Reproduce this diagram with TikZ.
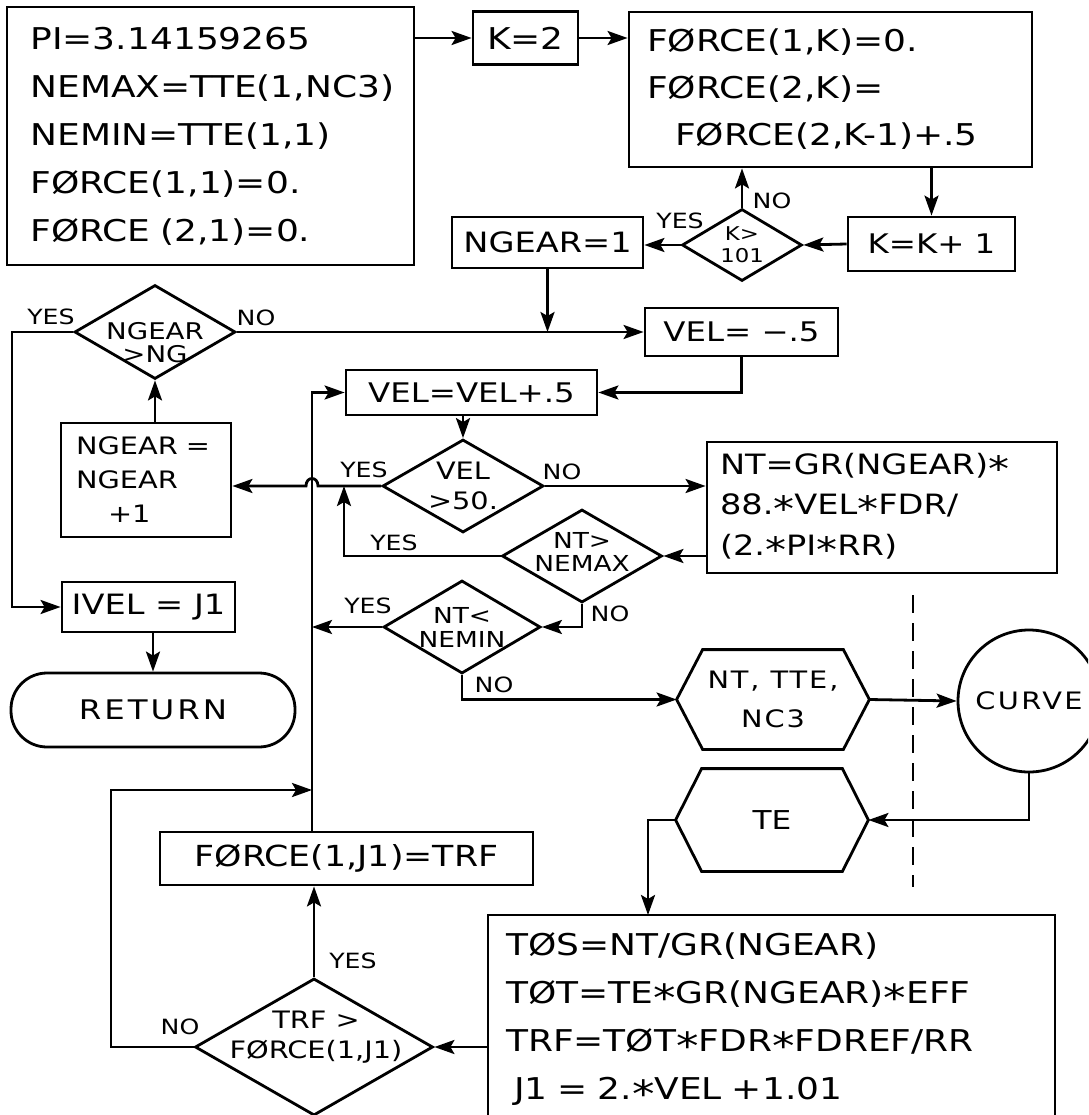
\documentclass[tikz,border=0pt]{standalone}
\usepackage{fontspec}
\usepackage{graphicx}
\setmainfont{DejaVu Sans}[FakeStretch=1.2]
\usetikzlibrary{arrows.meta,shapes.geometric,calc}
\newcommand{\fs}[2]{\fontsize{#1}{#2}\selectfont}
\newcommand{\tast}{\raisebox{-0.45ex}{\scalebox{1.25}{*}}}
\begin{document}
\begin{tikzpicture}[x=1pt,y=-1pt,line width=2.8pt,
  box/.style={draw,rectangle,inner sep=0pt},
  dia/.style={draw,diamond,inner sep=-12pt,align=center},
  dtxt/.style={inner sep=0pt,align=center},
  plain/.style={inner sep=0pt},
  lbl/.style={inner sep=0pt,font={\fs{21}{24}}},
  arr/.style={-{Stealth[length=20pt,width=14pt,inset=4pt]}},
  sep/.style={line width=1.8pt,dash pattern=on 18pt off 10pt}]
\useasboundingbox (0,0) rectangle (1088,1115);
\clip (0,0) rectangle (1088,1115);

% ---- nodes ----
\node[box,minimum width=407pt,minimum height=258pt,text width=360pt,align=left,font={\fs{30}{48}}] (init) at (210.5,136)
  {PI=3.14159265\\NEMAX=TTE(1,NC3)\\NEMIN=TTE(1,1)\\FØRCE(1,1)=0.\\FØRCE~(2,1)=0.};
\node[box,minimum width=105pt,minimum height=53pt,font={\fs{30}{36}}] (k2) at (525.5,38) {K=2};
\node[box,minimum width=403pt,minimum height=155pt,text width=367pt,align=left,font={\fs{30}{47}}] (force1) at (830.5,89.5)
  {FØRCE(1,K)=0.\\FØRCE(2,K)=\\\hspace*{28pt}FØRCE(2,K-1)+.5};
\node[box,minimum width=167pt,minimum height=54pt,font={\fs{27}{32}}] (kk1) at (931.5,244) {K=K+~1};
\node[dia,aspect=1.67,minimum width=120pt,minimum height=72pt,font={\fs{19}{22}}] (kd) at (742,245) {K>\\101};
\node[box,minimum width=191pt,minimum height=51pt,font={\fs{28}{32}}] (ng1) at (547.5,242.5) {NGEAR=1};
\node[dia,minimum width=161pt,minimum height=94pt] (ngd) at (155,332) {};
\node[dtxt,font={\fs{23}{23}}] (ngdt) at (155,343) {NGEAR\\>NG};
\node[box,minimum width=193pt,minimum height=48pt,font={\fs{27}{32}}] (velm) at (741.5,332) {VEL=~−.5};
\node[box,minimum width=251pt,minimum height=45pt,font={\fs{27}{32}}] (velp) at (471.5,392.5) {VEL=VEL+.5};
\node[dia,aspect=1.73,minimum width=161pt,minimum height=93pt,font={\fs{24}{30}}] (v50) at (463,486) {VEL\\>50.};
\node[box,minimum width=350pt,minimum height=131pt,text width=324pt,align=left,font={\fs{28}{40.5}}] (ntbox) at (882,507.5)
  {NT=GR(NGEAR)\tast\\88.\tast VEL\tast FDR/\\(2.\tast PI\tast RR)};
\node[dia,minimum width=160pt,minimum height=93pt] (ntmax) at (582,556) {};
\node[dtxt,font={\fs{22}{23}}] (ntmaxt) at (582,552) {NT>\\NEMAX};
\node[dia,aspect=1.69,minimum width=157pt,minimum height=93pt,font={\fs{22}{24}}] (ntmin) at (462,627) {NT<\\NEMIN};
\node[box,minimum width=170pt,minimum height=114pt,text width=140pt,align=left,font={\fs{24}{34}}] (ngbox) at (146,480)
  {NGEAR~=\\NGEAR\\\hspace*{32pt}+1};
\node[box,minimum width=173pt,minimum height=50pt,font={\fs{28}{32}}] (ivel) at (148.5,607) {IVEL~=~J1};
\node[box,rounded corners=36pt,minimum width=284pt,minimum height=74pt,font={\fs{27}{32}\addfontfeature{LetterSpace=11}}] (ret) at (153,710) {RETURN};
\node[box,minimum width=373pt,minimum height=53pt,font={\fs{29}{32}}] (f1j1) at (346.5,858.5) {FØRCE(1,J1)=TRF};
\node[dia,minimum width=238pt,minimum height=137pt] (trf) at (314,1047) {};
\node[dtxt,font={\fs{24}{30}}] (trft) at (316,1037) {TRF~>\\FØRCE(1,J1)};
\node[plain,minimum width=190pt,minimum height=97pt,align=center,font={\fs{24}{39}\addfontfeature{LetterSpace=8}}] (nthex) at (773,699.5) {NT,~TTE,\\NC3};
\node[draw,circle,inner sep=0pt,minimum size=142pt,font={\fs{24}{26}\addfontfeature{LetterSpace=10}}] (curve) at (1029,701) {CURVE};
\node[plain,minimum width=190pt,minimum height=100pt,font={\fs{26}{30}}] (tehex) at (772,820) {TE};
\node[box,minimum width=567pt,minimum height=210pt,text width=531pt,align=left,font={\fs{30}{48}}] (tos) at (771.5,1020)
  {TØS=NT/GR(NGEAR)\\TØT=TE\tast GR(NGEAR)\tast EFF\\TRF=TØT\tast FDR\tast FDREF/RR\\\hspace*{8pt}J1~=~2.\tast VEL~+1.01};

% hexagon outlines
\draw (nthex.west) -- ($(nthex.north west)+(26,0)$) -- ($(nthex.north east)+(-26,0)$) -- (nthex.east)
  -- ($(nthex.south east)+(-26,0)$) -- ($(nthex.south west)+(26,0)$) -- cycle;
\draw (tehex.west) -- ($(tehex.north west)+(26,0)$) -- ($(tehex.north east)+(-26,0)$) -- (tehex.east)
  -- ($(tehex.south east)+(-26,0)$) -- ($(tehex.south west)+(26,0)$) -- cycle;

% coordinates
\coordinate (vt) at (312,392.5);
\coordinate (yj) at (344,486);
\coordinate (lp) at (312,790);
\coordinate (tein) at (648,915);
\coordinate (dtop) at (913,595);
\coordinate (dbot) at (913,887);

% ---- connectors ----
\draw[arr] (init.east |- k2.west) -- (k2.west);
\draw[arr] (k2.east) -- (k2.east -| force1.west);
\draw[arr] (force1.south -| kk1.north) -- (kk1.north);
\draw[arr] (kk1.west) -- (kd.east);
\draw[arr] (kd.north) -- (kd.north |- force1.south);
\draw[arr] (kd.west) -- (kd.west -| ng1.east);
\draw[arr] (ng1.south) -- (ng1.south |- ngd.east);
\draw[arr] (ngd.east) -- (velm.west);
\draw[arr] (velm.south) |- (velp.east);
\draw[arr] (velp.south -| v50.north) -- (v50.north);
\draw[arr] (v50.east) -- (v50.east -| ntbox.west);
\draw[arr] (ntbox.west |- ntmax.east) -- (ntmax.east);
\draw[arr] (ntmax.south) |- (ntmin.east);
\draw[arr] (ntmax.west) -| (yj);
\draw[arr] (v50.west) -- (318,486) .. controls (318,476) and (306,476) .. (306,486) -- (ngbox.east |- v50.west);
\draw[arr] (ngbox.north -| ngd.south) -- (ngd.south);
\draw[arr] (ngd.west) -- (12,332) |- (ivel.west);
\draw[arr] (ivel.south -| ret.north) -- (ret.north);
\draw[arr] (f1j1.north -| vt) -- (vt) -- (velp.west);
\draw[arr] (ntmin.west) -- (ntmin.west -| vt);
\draw[arr] (ntmin.south) |- (nthex.west);
\draw[arr] (nthex.east) -- (curve.west);
\draw[arr] (curve.south) |- (tehex.east);
\draw[arr] (tehex.west) -| (tein);
\draw[arr] (tos.west |- trf.east) -- (trf.east);
\draw[arr] (trf.north) -- (f1j1.south -| trf.north);
\draw[arr] (trf.west) -| (111,790) -- (lp);
\draw[sep] (dtop) -- (dbot);

% ---- labels ----
\node[lbl] (lkdno) at (772,201) {NO};
\node[lbl] (lkdyes) at (680,221) {YES};
\node[lbl] (lngyes) at (51,317) {YES};
\node[lbl] (lngno) at (256,318) {NO};
\node[lbl] (lv50yes) at (364,470) {YES};
\node[lbl] (lv50no) at (562,472) {NO};
\node[lbl] (lmaxyes) at (394,543) {YES};
\node[lbl] (lmaxno) at (610,614) {NO};
\node[lbl] (lminyes) at (368,606) {YES};
\node[lbl] (lminno) at (494,685) {NO};
\node[lbl] (ltrfyes) at (353,961) {YES};
\node[lbl] (ltrfno) at (180,1027) {NO};
\end{tikzpicture}
\end{document}
